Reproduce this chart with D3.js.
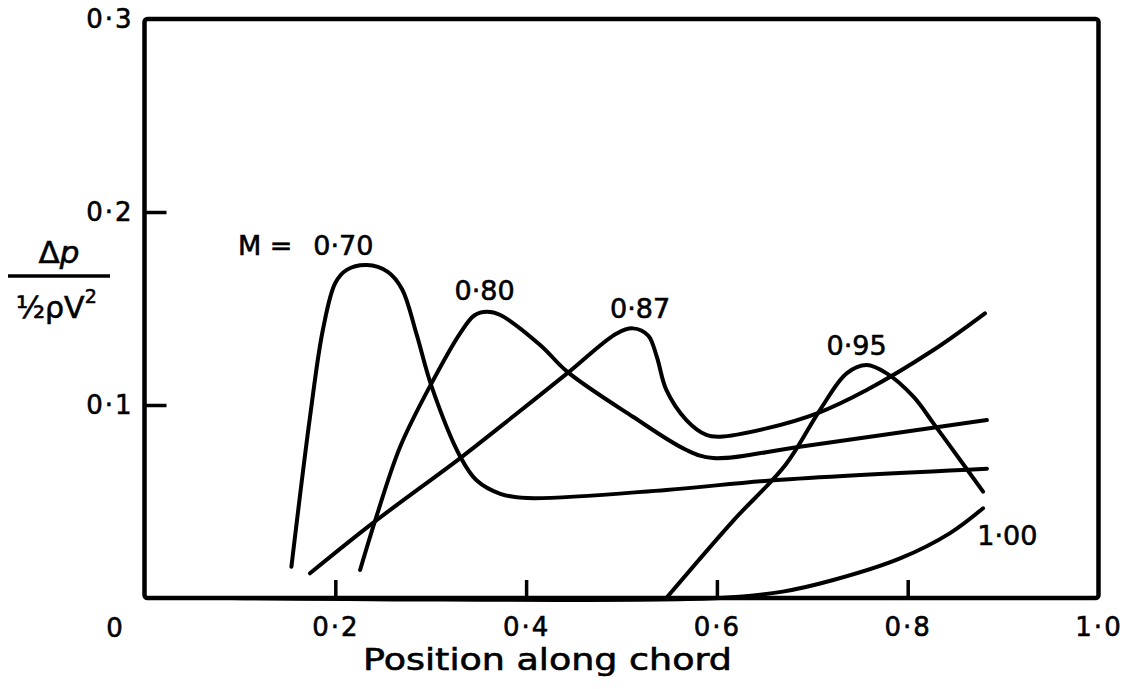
<!DOCTYPE html>
<html>
  <head>
    <meta charset="utf-8" />
    <title>Pressure rise along chord</title>
    <script src="https://cdn.jsdelivr.net/npm/d3@7"></script>
    <style type="text/css">
      html, body {
        margin: 0;
        padding: 0;
        background: #fff;
      }
      svg text {
        font-family: "DejaVu Sans", "Liberation Sans", sans-serif;
        fill: #000;
        stroke: #000;
        stroke-width: 0.6px;
      }
      .curve {
        fill: none;
        stroke: #000;
        stroke-width: 4;
        stroke-linecap: round;
        stroke-linejoin: round;
      }
    </style>
  </head>
  <body>
    <svg id="chart" width="1129" height="689"></svg>

    <script type="text/javascript">

    // data: x = position along chord, y = dp / (1/2 rho V^2)
    var m070 = [
      [0.154, 0.0162], [0.1735, 0.0939], [0.187, 0.139], [0.200, 0.1632],
      [0.212, 0.170], [0.233, 0.1725], [0.255, 0.169], [0.270, 0.160],
      [0.285, 0.137], [0.301, 0.1095], [0.331, 0.0732], [0.348, 0.061],
      [0.373, 0.054], [0.401, 0.0518], [0.547, 0.056], [0.659, 0.061],
      [0.883, 0.067]
    ];
    var m080 = [
      [0.226, 0.0145], [0.243, 0.042], [0.268, 0.0784], [0.301, 0.1114],
      [0.331, 0.1373], [0.346, 0.1465], [0.359, 0.1483], [0.373, 0.1466],
      [0.415, 0.131], [0.443, 0.1173], [0.512, 0.0939], [0.568, 0.0767],
      [0.596, 0.0725], [0.687, 0.0784], [0.883, 0.0922]
    ];
    var m087 = [
      [0.1735, 0.0128], [0.2395, 0.0389], [0.331, 0.0725], [0.373, 0.0888],
      [0.443, 0.1164], [0.495, 0.1371], [0.512, 0.1397], [0.528, 0.1360],
      [0.537, 0.125], [0.547, 0.1078], [0.568, 0.0922], [0.589, 0.0845],
      [0.603, 0.0836], [0.652, 0.0879], [0.705, 0.0957], [0.757, 0.1078],
      [0.827, 0.1285], [0.881, 0.1475]
    ];
    var m095 = [
      [0.547, 0.0], [0.617, 0.040], [0.672, 0.069], [0.708, 0.0974],
      [0.736, 0.1164], [0.757, 0.1207], [0.778, 0.1164],
      [0.806, 0.1043], [0.827, 0.0905], [0.855, 0.0715], [0.879, 0.0551]
    ];
    var m100 = [
      [0.092, 0.0], [0.603, 0.0], [0.669, 0.0033], [0.722, 0.0093],
      [0.792, 0.0205], [0.844, 0.0335], [0.879, 0.0465]
    ];

    var series = [m070, m080, m087, m095, m100];

    // curve labels: text, left edge and baseline in data units
    var curveLabels = [
      ['M =', 0.098, 0.1777],
      ['0·70', 0.177, 0.1777],
      ['0·80', 0.325, 0.1544],
      ['0·87', 0.488, 0.1450],
      ['0·95', 0.715, 0.1259],
      ['1·00', 0.873, 0.0275]
    ];

    var xTickVals = [0.2, 0.4, 0.6, 0.8, 1.0];
    var yTickVals = [0.1, 0.2, 0.3];

    var svg = d3.select('#chart');

    var x = d3.scaleLinear().domain([0, 1]).range([144.5, 1098.5]);
    var y = d3.scaleLinear().domain([0, 0.3]).range([598, 19]);

    function fmt(d) { return d3.format('.1f')(d).replace('.', '·'); }

    // frame
    svg.append('rect')
      .attr('x', x(0))
      .attr('y', y(0.3))
      .attr('width', x(1) - x(0))
      .attr('height', y(0) - y(0.3))
      .attr('rx', 3)
      .attr('fill', 'none')
      .attr('stroke', '#000')
      .attr('stroke-width', 4.5);

    var xAxis = svg.append('g')
      .attr('transform', 'translate(0,' + y(0) + ')')
      .call(d3.axisBottom(x).tickValues(xTickVals).tickSizeInner(-18).tickSizeOuter(0)
              .tickPadding(20).tickFormat(fmt));

    var yAxis = svg.append('g')
      .attr('transform', 'translate(' + x(0) + ',0)')
      .call(d3.axisLeft(y).tickValues(yTickVals).tickSizeInner(-22).tickSizeOuter(0)
              .tickPadding(11).tickFormat(fmt));

    [xAxis, yAxis].forEach(function(g) {
      g.select('.domain').remove();
      g.selectAll('.tick line').attr('stroke', '#000').attr('stroke-width', 3.5);
      g.selectAll('.tick text')
        .attr('font-size', 26)
        .attr('letter-spacing', 2)
        .attr('fill', '#000')
        .style('font-family', '"DejaVu Sans", sans-serif');
    });
    // edge ticks coincide with the frame
    xAxis.selectAll('.tick').filter(function(d) { return d === 1.0; }).select('line').remove();
    yAxis.selectAll('.tick').filter(function(d) { return d === 0.3; }).select('line').remove();

    // origin label
    svg.append('text')
      .attr('x', x(0) - 30)
      .attr('y', 637)
      .attr('text-anchor', 'middle')
      .attr('font-size', 26)
      .text('0');

    // curves
    var line = d3.line()
      .x(function(d) { return x(d[0]); })
      .y(function(d) { return y(d[1]); })
      .curve(d3.curveCatmullRom.alpha(0.5));

    svg.selectAll('.curve')
      .data(series)
      .enter()
      .append('path')
        .attr('class', 'curve')
        .attr('d', line);

    svg.selectAll('.clabel')
      .data(curveLabels)
      .enter()
      .append('text')
        .attr('class', 'clabel')
        .attr('x', function(d) { return x(d[1]); })
        .attr('y', function(d) { return y(d[2]); })
        .attr('font-size', 27)
        .text(function(d) { return d[0]; });

    // axis titles
    svg.append('text')
      .attr('x', 363)
      .attr('y', 670)
      .attr('font-size', 30)
      .attr('textLength', 369)
      .attr('lengthAdjust', 'spacingAndGlyphs')
      .text('Position along chord');

    var yt = svg.append('g');
    var num = yt.append('text')
      .attr('x', 59)
      .attr('y', 263)
      .attr('text-anchor', 'middle')
      .attr('font-size', 31);
    num.append('tspan').text('Δ');
    num.append('tspan').attr('font-style', 'italic').text('p');

    yt.append('line')
      .attr('x1', 8).attr('x2', 110)
      .attr('y1', 276).attr('y2', 276)
      .attr('stroke', '#000')
      .attr('stroke-width', 3.5);

    var den = yt.append('text')
      .attr('x', 16)
      .attr('y', 318)
      .attr('font-size', 30);
    den.append('tspan').text('½ρV');
    den.append('tspan').attr('font-size', 19).attr('dy', -15).text('2');

    </script>
  </body>
</html>
